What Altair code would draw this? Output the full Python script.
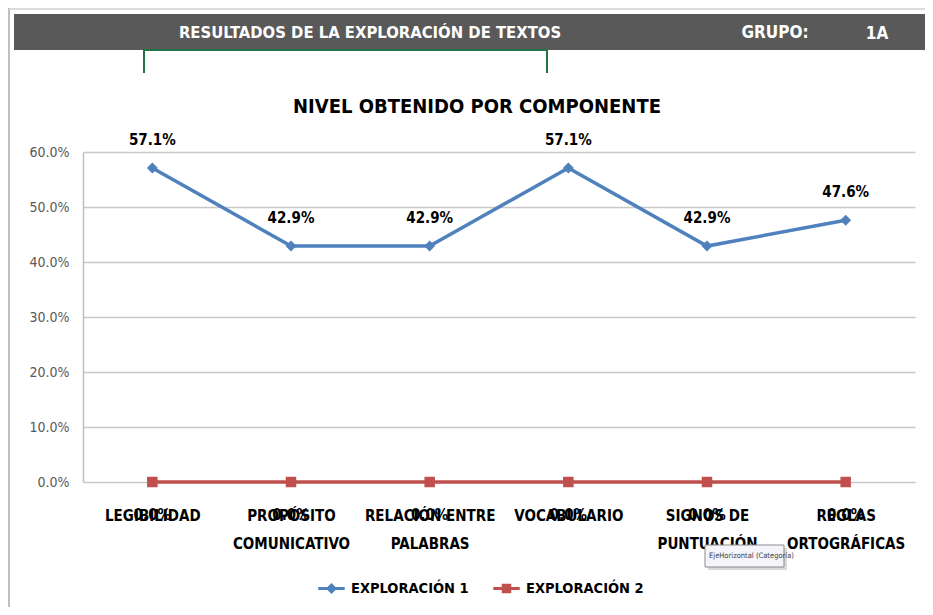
import altair as alt
import pandas as pd

# ---------------- data ----------------
CATEGORIES = [
    "LEGIBILIDAD",
    "PROPÓSITO\nCOMUNICATIVO",
    "RELACIÓN ENTRE\nPALABRAS",
    "VOCABULARIO",
    "SIGNOS DE\nPUNTUACIÓN",
    "REGLAS\nORTOGRÁFICAS",
]
SERIES = ["EXPLORACIÓN 1", "EXPLORACIÓN 2"]
EXPLORACION_1 = [0.571, 0.429, 0.429, 0.571, 0.429, 0.476]
EXPLORACION_2 = [0.0, 0.0, 0.0, 0.0, 0.0, 0.0]
COLORS = ["#4F81BD", "#C0504D"]
Y_TICKS = [0.0, 0.1, 0.2, 0.3, 0.4, 0.5, 0.6]

HEADER_TITLE = "RESULTADOS DE LA EXPLORACIÓN DE TEXTOS"
HEADER_GROUP = "GRUPO:"
HEADER_GROUP_VALUE = "1A"
CHART_TITLE = "NIVEL OBTENIDO POR COMPONENTE"
TOOLTIP_TEXT = "EjeHorizontal (Categoría)"

FONT = "DejaVu Sans Condensed, Lato, sans-serif"

rows = []
for i, c in enumerate(CATEGORIES):
    rows.append({"cat": c, "serie": SERIES[0], "val": EXPLORACION_1[i]})
    rows.append({"cat": c, "serie": SERIES[1], "val": EXPLORACION_2[i]})
df = pd.DataFrame(rows)

W, H = 832, 330
PAD_L, PAD_T, PAD_R, PAD_B = 75, 144, 10, 125

x_enc = alt.X(
    "cat:N",
    sort=CATEGORIES,
    scale=alt.Scale(paddingInner=0, paddingOuter=0),
    axis=alt.Axis(
        title=None,
        labelAngle=0,
        labelExpr="split(datum.label, '\\n')",
        labelFont=FONT,
        labelFontSize=15,
        labelFontWeight="bold",
        labelColor="#000000",
        labelPadding=33,
        labelLineHeight=28,
        labelBaseline="middle",
        ticks=False,
        domain=False,
        grid=False,
    ),
)
y_enc = alt.Y(
    "val:Q",
    scale=alt.Scale(domain=[0, 0.6], nice=False, zero=True),
    axis=alt.Axis(
        title=None,
        values=Y_TICKS,
        format=".1%",
        labelFont=FONT,
        labelFontSize=14,
        labelColor="#595959",
        labelPadding=14,
        ticks=False,
        domain=True,
        domainColor="#BFBFBF",
        domainWidth=1.5,
        grid=True,
        gridColor="#C8C8C8",
        gridWidth=1.5,
    ),
)

base = alt.Chart(df)
s1 = base.transform_filter(alt.datum.serie == SERIES[0])
s2 = base.transform_filter(alt.datum.serie == SERIES[1])

line1 = s1.mark_line(strokeWidth=3.5, color=COLORS[0]).encode(x=x_enc, y=y_enc)
line2 = s2.mark_line(strokeWidth=3.5, color=COLORS[1]).encode(x=x_enc, y=y_enc)
points1 = s1.mark_point(filled=True, opacity=1, size=120, shape="diamond", color=COLORS[0]).encode(x=x_enc, y=y_enc)
points2 = s2.mark_point(filled=True, opacity=1, size=110, shape="square", color=COLORS[1]).encode(x=x_enc, y=y_enc)
labels1 = s1.mark_text(
    font=FONT, fontSize=15, fontWeight="bold", color="#000000", dy=-28
).encode(x=x_enc, y=y_enc, text=alt.Text("val:Q", format=".1%"))
labels2 = s2.mark_text(
    font=FONT, fontSize=15, fontWeight="bold", color="#000000", dy=33
).encode(x=x_enc, y=y_enc, text=alt.Text("val:Q", format=".1%"))

# legend-only layer (no rows drawn) with custom line+marker symbols
LEG_DIAMOND = "M-1,-0.12H1V0.12H-1Z M0,-0.42L0.42,0L0,0.42L-0.42,0Z"
LEG_SQUARE = "M-1,-0.12H1V0.12H-1Z M-0.36,-0.36H0.36V0.36H-0.36Z"
legend_layer = base.transform_filter("false").mark_point(filled=True, size=700, opacity=1).encode(
    x=x_enc, y=y_enc,
    color=alt.Color("serie:N", scale=alt.Scale(domain=SERIES, range=COLORS), legend=alt.Legend(title=None)),
    shape=alt.Shape("serie:N", scale=alt.Scale(domain=SERIES, range=[LEG_DIAMOND, LEG_SQUARE]),
                    legend=alt.Legend(title=None)),
)

# ---------- decorations (sheet header, bracket, title, tooltip, border) ----------
one = pd.DataFrame({"k": [0]})
dec = alt.Chart(one)
# page coords -> plot coords
def px(v):
    return v - 83
def py(v):
    return v - 152

border_left = dec.mark_rule(color="#BFBFBF", strokeWidth=2).encode(
    x=alt.value(px(9)), y=alt.value(py(8)), y2=alt.value(py(615)))
border_top = dec.mark_rule(color="#D0D0D0", strokeWidth=1.5).encode(
    x=alt.value(px(9)), x2=alt.value(px(933)), y=alt.value(py(9)))
header = dec.mark_rect(color="#595959").encode(
    x=alt.value(px(14)), x2=alt.value(px(933)), y=alt.value(py(14)), y2=alt.value(py(50)))
header_t1 = dec.mark_text(font=FONT, fontSize=16.5, fontWeight="bold", color="#FFFFFF").encode(
    x=alt.value(px(370)), y=alt.value(py(33)), text=alt.value(HEADER_TITLE))
header_t2 = dec.mark_text(font=FONT, fontSize=17, fontWeight="bold", color="#FFFFFF").encode(
    x=alt.value(px(775)), y=alt.value(py(33)), text=alt.value(HEADER_GROUP))
header_t3 = dec.mark_text(font=FONT, fontSize=17, fontWeight="bold", color="#FFFFFF").encode(
    x=alt.value(px(877)), y=alt.value(py(34)), text=alt.value(HEADER_GROUP_VALUE))
green_top = dec.mark_rule(color="#217346", strokeWidth=2).encode(
    x=alt.value(px(144)), x2=alt.value(px(547)), y=alt.value(py(50)))
green_l = dec.mark_rule(color="#217346", strokeWidth=2).encode(
    x=alt.value(px(144)), y=alt.value(py(50)), y2=alt.value(py(73)))
green_r = dec.mark_rule(color="#217346", strokeWidth=2).encode(
    x=alt.value(px(547)), y=alt.value(py(50)), y2=alt.value(py(73)))
title_txt = dec.mark_text(font=FONT, fontSize=20, fontWeight="bold", color="#000000").encode(
    x=alt.value(px(477)), y=alt.value(py(107)), text=alt.value(CHART_TITLE))
tip_shadow = dec.mark_rect(color="#D9D9D9").encode(
    x=alt.value(px(708)), x2=alt.value(px(787)), y=alt.value(py(548)), y2=alt.value(py(570)))
tip_box = dec.mark_rect(fill="#F4F4FA", stroke="#8C8C8C", strokeWidth=1).encode(
    x=alt.value(px(705)), x2=alt.value(px(784)), y=alt.value(py(545)), y2=alt.value(py(567)))
tip_text = dec.mark_text(font=FONT, fontSize=7.5, color="#404040", align="left").encode(
    x=alt.value(px(709)), y=alt.value(py(556)), text=alt.value(TOOLTIP_TEXT))

chart = alt.layer(
    border_left, border_top, header, header_t1, header_t2, header_t3,
    green_top, green_l, green_r, title_txt,
    line1, line2, points1, points2, labels1, labels2, legend_layer,
    tip_shadow, tip_box, tip_text,
).properties(
    width=W, height=H,
    autosize=alt.AutoSizeParams(type="none"),
    padding={"left": PAD_L, "top": PAD_T, "right": PAD_R, "bottom": PAD_B},
).configure_view(
    stroke=None
).configure_legend(
    orient="none",
    legendX=px(318),
    legendY=py(575),
    direction="horizontal",
    labelFont=FONT,
    labelFontSize=14.5,
    labelFontWeight="bold",
    labelColor="#000000",
    symbolSize=700,
    symbolStrokeWidth=0,
    labelOffset=6,
    columnPadding=24,
    labelLimit=300,
)

chart.save("out.html", embed_options={"renderer": "svg", "actions": False})
